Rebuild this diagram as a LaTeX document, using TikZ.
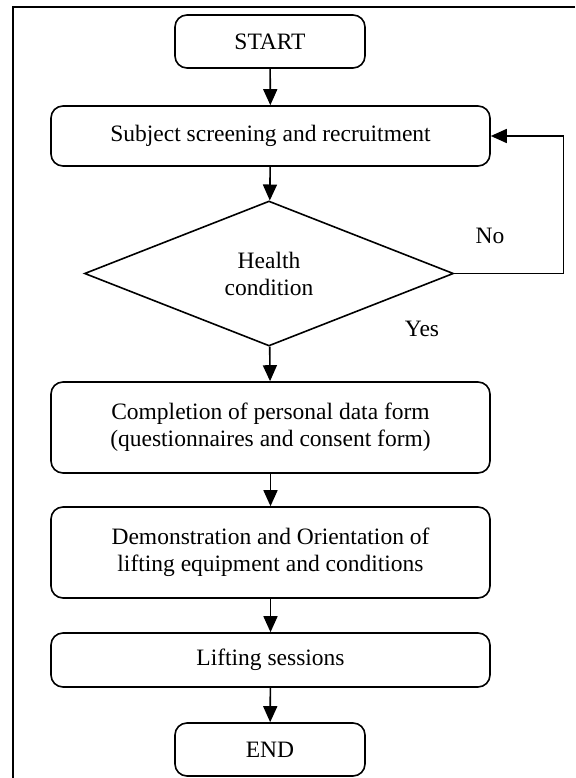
\documentclass[tikz,border=0pt]{standalone}
\usepackage{fontspec}
\setmainfont{Liberation Serif}
\usepackage{tikz}
\usetikzlibrary{shapes.geometric,arrows.meta,positioning,calc}

\begin{document}
\begin{tikzpicture}[
    x=1pt, y=-1pt,
    every node/.style={font=\fontsize{23.5}{27}\selectfont},
    terminal/.style={rectangle, rounded corners=12pt, draw, line width=1.6pt, minimum width=190pt, minimum height=53pt, inner sep=0pt},
    process/.style={rectangle, rounded corners=12pt, draw, line width=1.6pt, minimum width=439pt, align=center, inner sep=0pt},
    decision/.style={diamond, aspect=2.5, draw, line width=1.6pt, minimum width=369pt, minimum height=145pt, align=center, inner sep=0pt},
    flow/.style={-{Triangle[length=16pt,width=14pt]}, line width=1.6pt},
    label/.style={inner sep=0pt}
]
    \useasboundingbox (0,0) rectangle (575,778);

    % Frame (cut at right and bottom)
    \draw[line width=1.6pt] (575,7) -- (13,7) -- (13,778);

    % Terminals
    \node[terminal] (start) at (270,41.5) {START};
    \node[terminal] (end) at (270,749.5) {END};

    % Steps
    \node[process, minimum height=60pt] (screen) at (270.5,136) {Subject screening and recruitment};
    \node[decision] (health) at (269,273.5) {Health\\condition};
    \node[process, minimum height=91pt] (form) at (270.5,427.5) {Completion of personal data form\\(questionnaires and consent form)};
    \node[process, minimum height=91pt] (demo) at (270.5,552.5) {Demonstration and Orientation of\\lifting equipment and conditions};
    \node[process, minimum height=54pt] (lift) at (270.5,660) {Lifting sessions};

    % Main flow
    \draw[flow] (start) -- (screen);
    \draw[flow] (screen) -- (health);
    \draw[flow] (health) -- (form);
    \draw[flow] (form) -- (demo);
    \draw[flow] (demo) -- (lift);
    \draw[flow] (lift) -- (end);

    % Loop back
    \draw[flow] (health.east) -- ++(109,0) |- (screen.east);

    % Branch labels
    \node[label] (no) at (490,236) {No};
    \node[label] (yes) at (422,329) {Yes};
\end{tikzpicture}
\end{document}
